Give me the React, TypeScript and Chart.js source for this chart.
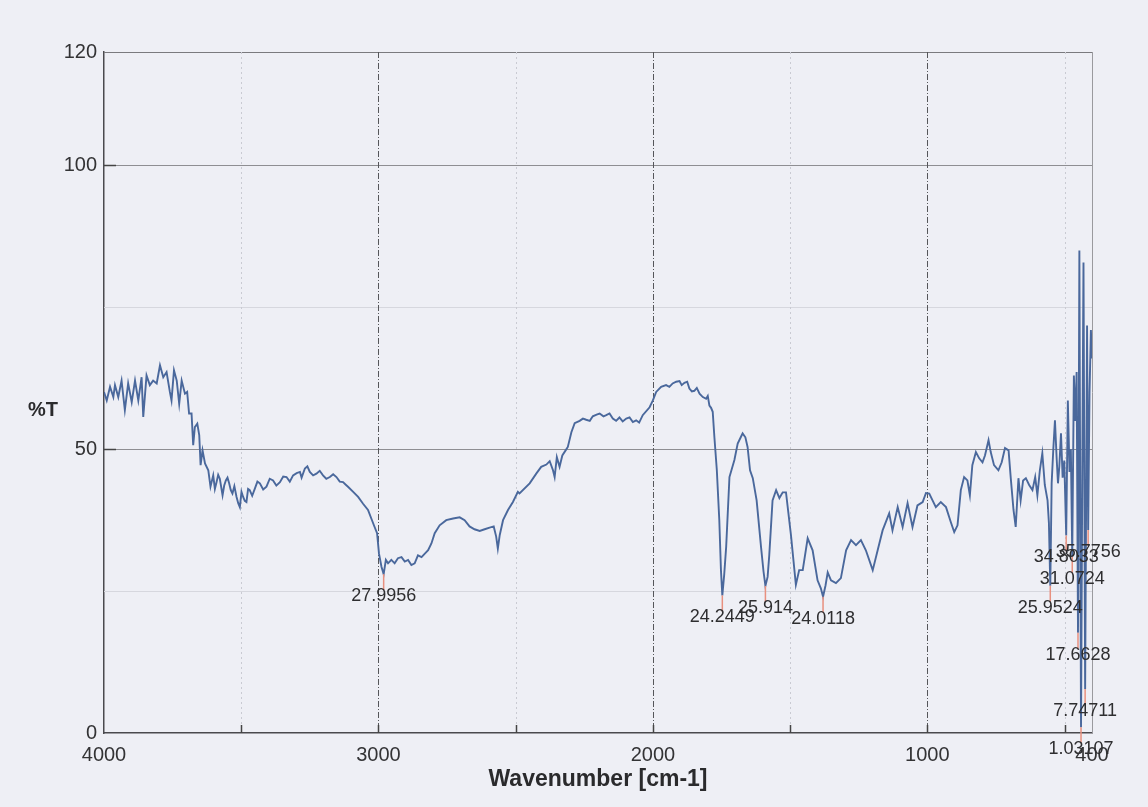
import React, { useEffect, useRef } from "react";
import { Chart, registerables } from "chart.js";

Chart.register(...registerables);

const wavenumbers = [
  4000, 3990, 3978, 3966, 3960, 3948, 3936, 3924, 3912, 3899, 3887, 3875, 3863, 3857, 3845, 3833, 3821, 3808, 3796, 3784,
  3772, 3760, 3754, 3745, 3735, 3726, 3717, 3705, 3697, 3690, 3681, 3675, 3669, 3660, 3653, 3648, 3641, 3632, 3620, 3612,
  3602, 3596, 3590, 3584, 3578, 3568, 3562, 3556, 3550, 3544, 3538, 3532, 3525, 3517, 3511, 3505, 3499, 3493, 3487, 3481,
  3475, 3469, 3460, 3450, 3441, 3432, 3420, 3408, 3396, 3384, 3372, 3359, 3347, 3335, 3323, 3311, 3298, 3286, 3280, 3268,
  3259, 3250, 3238, 3226, 3214, 3202, 3190, 3177, 3165, 3153, 3141, 3129, 3120, 3111, 3092, 3074, 3056, 3038, 3026, 3014,
  3005, 2998, 2989, 2981, 2973, 2965, 2953, 2941, 2929, 2916, 2904, 2892, 2880, 2868, 2856, 2843, 2831, 2819, 2807, 2795,
  2777, 2753, 2728, 2704, 2686, 2668, 2650, 2631, 2613, 2595, 2580, 2571, 2565, 2558, 2546, 2528, 2510, 2492, 2486, 2449,
  2425, 2407, 2388, 2376, 2364, 2358, 2350, 2340, 2330, 2318, 2310, 2297, 2285, 2267, 2255, 2243, 2230, 2219, 2205, 2194,
  2180, 2170, 2158, 2146, 2134, 2122, 2110, 2097, 2085, 2073, 2061, 2050, 2037, 2012, 2000, 1988, 1970, 1952, 1940, 1928,
  1915, 1903, 1895, 1885, 1875, 1867, 1858, 1849, 1840, 1830, 1818, 1806, 1800, 1794, 1788, 1782, 1776,
  1767, 1758, 1752, 1747, 1740, 1733, 1721, 1703, 1691, 1679, 1673, 1663, 1655, 1646, 1636, 1622, 1606, 1597, 1590, 1582,
  1576, 1564, 1551, 1539, 1527, 1515, 1497, 1479, 1467, 1454, 1436, 1418, 1400, 1388, 1380, 1371, 1363, 1351, 1333, 1315,
  1296, 1278, 1260, 1242, 1224, 1199, 1181, 1163, 1139, 1127, 1108, 1090, 1072, 1054, 1036, 1017, 1005, 993, 981, 969,
  951, 932, 914, 902, 890, 878, 866, 854, 845, 836, 823, 811, 799, 790, 777, 769, 757, 741, 729, 717,
  704, 696, 686, 678, 668, 660, 651, 641, 629, 617, 607, 599, 590, 581, 572, 562, 557, 552, 547, 541,
  535, 529, 524, 519, 513, 507, 501, 494, 488, 482, 477, 472, 466, 461, 456, 451, 446, 440, 435, 431,
  425, 418, 414, 409, 404, 400,
];

const transmittance = [
  60.1, 58.6, 61.0, 59.2, 61.3, 59.2, 62.1, 56.9, 61.6, 58.3, 62.1, 58.6, 62.7, 55.7, 63.0, 61.3, 62.1, 61.6, 64.8, 62.7,
  63.6, 60.1, 58.6, 63.9, 62.1, 58.0, 62.1, 59.8, 60.1, 56.3, 56.3, 50.7, 53.9, 54.5, 52.5, 47.2, 49.8, 47.5, 46.3, 43.4,
  45.4, 43.0, 44.2, 45.5, 44.8, 41.9, 43.6, 44.5, 45.0, 44.0, 42.8, 42.2, 43.5, 41.6, 40.5, 39.8, 42.5, 41.6, 40.9, 40.7,
  43.0, 42.8, 41.8, 43.1, 44.3, 44.0, 42.9, 43.4, 44.8, 44.5, 43.6, 44.2, 45.2, 45.1, 44.3, 45.4, 45.8, 46.0, 45.0, 46.6,
  47.0, 46.0, 45.4, 45.7, 46.2, 45.4, 44.8, 45.1, 45.6, 45.1, 44.3, 44.2, 43.8, 43.4, 42.5, 41.6, 40.4, 39.3, 37.8, 36.3,
  35.2, 31.6, 29.3, 27.9956, 30.5, 29.9, 30.5, 29.9, 30.8, 31.0, 30.2, 30.5, 29.6, 29.9, 31.3, 31.0, 31.6, 32.2, 33.4, 35.2,
  36.6, 37.5, 37.8, 38.0, 37.5, 36.4, 35.9, 35.6, 35.9, 36.2, 36.4, 34.6, 32.5, 34.9, 37.5, 39.3, 40.7, 42.5, 42.2, 44.0,
  45.7, 46.9, 47.3, 47.9, 46.3, 45.1, 48.6, 46.9, 48.9, 49.8, 50.4, 53.0, 54.6, 55.0, 55.4, 55.2, 55.0, 55.8, 56.1, 56.3,
  55.8, 56.0, 56.3, 55.4, 55.0, 55.6, 54.9, 55.4, 55.6, 54.8, 55.1, 54.7, 56.0, 57.4, 58.6, 60.1, 61.0, 61.3, 61.0, 61.6,
  61.9, 62.0, 61.3, 61.7, 61.9, 60.7, 60.2, 60.3, 60.8, 59.8, 59.2, 58.9, 59.4, 57.7, 57.3, 56.6, 52.2,
  46.3, 37.5, 28.7, 24.2449, 28.0, 32.8, 45.1, 48.1, 51.0, 52.2, 52.8, 52.1, 50.4, 46.3, 44.9, 41.0, 32.8, 28.5, 25.914, 27.5,
  31.3, 41.0, 42.8, 41.4, 42.4, 42.4, 34.9, 26.1, 28.7, 28.7, 34.3, 32.2, 26.9, 25.5, 24.0118, 26.0, 28.3, 26.9, 26.4, 27.3,
  32.2, 34.0, 33.1, 34.0, 32.2, 28.7, 32.2, 35.7, 38.7, 35.7, 39.8, 36.3, 40.5, 36.3, 40.1, 40.7, 42.3, 42.2, 41.0, 39.8,
  40.7, 39.8, 37.1, 35.4, 36.6, 42.8, 45.1, 44.5, 41.9, 47.2, 49.5, 48.4, 47.7, 48.9, 51.6, 49.5, 47.2, 46.3, 47.7, 50.2,
  49.8, 44.9, 39.3, 36.3, 44.9, 41.0, 44.5, 44.9, 43.7, 42.8, 45.1, 41.9, 46.3, 49.3, 43.7, 41.0, 37.0, 25.9524, 44.0, 50.0,
  55.1, 48.6, 44.0, 47.0, 52.8, 45.0, 48.0, 34.8033, 58.6, 46.0, 50.0, 31.0724, 63.0, 55.0, 63.6, 17.6628, 85.0, 1.03107, 50.0, 82.9,
  7.74711, 71.8, 35.7756, 60.0, 71.0, 66.0,
];

const xTickValues = [4000, 3500, 3000, 2500, 2000, 1500, 1000, 500, 400];
const xTickLabels = ["4000", "", "3000", "", "2000", "", "1000", "", "400"];
const yTickValues = [0, 25, 50, 75, 100, 120];
const yTickLabels = ["0", "", "50", "", "100", "120"];

const peakWavenumbers = [2981, 1747, 1590, 1380, 552, 494, 414, 472, 451, 425, 440];
const peakValues = [27.9956, 24.2449, 25.914, 24.0118, 25.9524, 34.8033, 35.7756, 31.0724, 17.6628, 7.74711, 1.03107];
const peakLabels = ["27.9956", "24.2449", "25.914", "24.0118", "25.9524", "34.8033", "35.7756", "31.0724", "17.6628", "7.74711", "1.03107"];

const xTitle = "Wavenumber [cm-1]";
const yTitle = "%T";

const FONT = "'Liberation Sans', Arial, Helvetica, sans-serif";

export default function App() {
  const ref = useRef<HTMLCanvasElement>(null);

  useEffect(() => {
    if (!ref.current) return;
    const points = wavenumbers.map((w, i) => ({ x: w, y: transmittance[i] }));

    const irPlugin = {
      id: "irDecor",
      beforeDatasetsDraw(chart: any) {
        const { ctx, chartArea, scales } = chart;
        const { left, right, top, bottom } = chartArea;
        const x = scales.x;
        const y = scales.y;
        const crisp = (v: number) => Math.round(v) + 0.5;
        ctx.save();
        ctx.lineWidth = 1;
        const hLine = (v: number, color: string) => {
          const py = crisp(y.getPixelForValue(v));
          ctx.strokeStyle = color;
          ctx.setLineDash([]);
          ctx.beginPath();
          ctx.moveTo(left, py);
          ctx.lineTo(right, py);
          ctx.stroke();
        };
        hLine(25, "#d6d7de");
        hLine(75, "#d6d7de");
        hLine(50, "#8e8e92");
        hLine(100, "#8e8e92");
        hLine(120, "#7a7a7e");
        const vLine = (v: number, color: string, dash: number[]) => {
          const px = crisp(x.getPixelForValue(v));
          ctx.strokeStyle = color;
          ctx.setLineDash(dash);
          ctx.beginPath();
          ctx.moveTo(px, top);
          ctx.lineTo(px, bottom);
          ctx.stroke();
        };
        [3500, 2500, 1500, 500].forEach((v) => vLine(v, "#c9cad2", [2, 3]));
        [3000, 2000, 1000].forEach((v) => vLine(v, "#55565a", [6, 2, 1, 2]));
        vLine(400, "#9a9a9e", []);
        ctx.setLineDash([]);
        ctx.strokeStyle = "#444";
        ctx.lineWidth = 1.5;
        [3500, 3000, 2500, 2000, 1500, 1000, 500].forEach((v) => {
          const px = crisp(x.getPixelForValue(v));
          ctx.beginPath();
          ctx.moveTo(px, bottom);
          ctx.lineTo(px, bottom - 8);
          ctx.stroke();
        });
        [50, 100].forEach((v) => {
          const py = crisp(y.getPixelForValue(v));
          ctx.beginPath();
          ctx.moveTo(left, py);
          ctx.lineTo(left + 12, py);
          ctx.stroke();
        });
        ctx.restore();
      },
      afterDatasetsDraw(chart: any) {
        const { ctx, scales } = chart;
        const x = scales.x;
        const y = scales.y;
        ctx.save();
        peakWavenumbers.forEach((w, i) => {
          const px = x.getPixelForValue(w);
          const py = y.getPixelForValue(peakValues[i]);
          ctx.strokeStyle = "#e8907f";
          ctx.lineWidth = 1.5;
          ctx.beginPath();
          ctx.moveTo(px, py);
          ctx.lineTo(px, py + 16);
          ctx.stroke();
        });
        ctx.fillStyle = "#2e2e30";
        ctx.font = `18px ${FONT}`;
        ctx.textAlign = "center";
        ctx.textBaseline = "middle";
        peakWavenumbers.forEach((w, i) => {
          const px = x.getPixelForValue(w);
          const py = y.getPixelForValue(peakValues[i]);
          ctx.fillText(peakLabels[i], px, py + 22);
        });
        ctx.restore();
      },
      afterDraw(chart: any) {
        const { ctx, chartArea } = chart;
        ctx.save();
        ctx.fillStyle = "#2a2a2c";
        ctx.font = `bold 23px ${FONT}`;
        ctx.textAlign = "center";
        ctx.textBaseline = "middle";
        ctx.fillText(xTitle, (chartArea.left + chartArea.right) / 2, 780);
        ctx.font = `bold 20px ${FONT}`;
        ctx.fillText(yTitle, 43, 410);
        ctx.restore();
      },
    };

    const chart = new Chart(ref.current, {
      type: "line",
      data: {
        datasets: [
          {
            data: points,
            borderColor: "#4a689c",
            borderWidth: 1.9,
            pointRadius: 0,
            tension: 0,
            fill: false,
          },
        ],
      },
      options: {
        responsive: false,
        animation: false,
        devicePixelRatio: 1,
        layout: { padding: { top: 52, right: 56, left: 0, bottom: 0 } },
        plugins: { legend: { display: false }, tooltip: { enabled: false } },
        scales: {
          x: {
            type: "linear",
            reverse: true,
            min: 400,
            max: 4000,
            afterBuildTicks: (s: any) => {
              s.ticks = xTickValues.map((v) => ({ value: v }));
            },
            afterFit: (s: any) => {
              s.height = 74;
            },
            ticks: {
              autoSkip: false,
              maxRotation: 0,
              padding: 10,
              color: "#333335",
              font: { family: FONT, size: 20 },
              callback: (v: any) => {
                const i = xTickValues.indexOf(Number(v));
                return i >= 0 ? xTickLabels[i] : "";
              },
            },
            grid: { display: false, drawTicks: false },
            border: { display: true, color: "#4a4a4e", width: 1.5 },
          },
          y: {
            type: "linear",
            min: 0,
            max: 120,
            afterBuildTicks: (s: any) => {
              s.ticks = yTickValues.map((v) => ({ value: v }));
            },
            afterFit: (s: any) => {
              s.width = 104;
            },
            ticks: {
              autoSkip: false,
              padding: 7,
              color: "#333335",
              font: { family: FONT, size: 20 },
              callback: (v: any) => {
                const i = yTickValues.indexOf(Number(v));
                return i >= 0 ? yTickLabels[i] : "";
              },
            },
            grid: { display: false, drawTicks: false },
            border: { display: true, color: "#4a4a4e", width: 1.5 },
          },
        },
      },
      plugins: [irPlugin],
    } as any);

    return () => chart.destroy();
  }, []);

  return (
    <div
      style={{
        position: "fixed",
        left: 0,
        top: 0,
        width: 1148,
        height: 807,
        background: "#eeeff5",
      }}
    >
      <canvas ref={ref} width={1148} height={807} style={{ display: "block", width: 1148, height: 807 }} />
    </div>
  );
}
